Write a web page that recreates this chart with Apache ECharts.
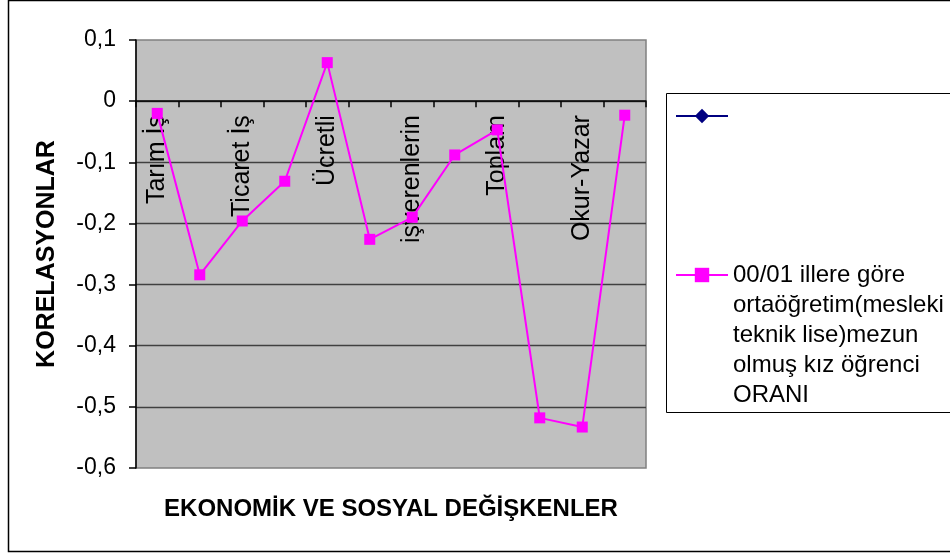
<!DOCTYPE html>
<html>
<head>
<meta charset="utf-8">
<script src="https://cdn.jsdelivr.net/npm/echarts@6/dist/echarts.min.js"></script>
<style>
  html, body { margin: 0; padding: 0; background: #ffffff; }
  #chart { width: 950px; height: 555px; }
</style>
</head>
<body>
<div id="chart"></div>
<script>
// Economic and social variables (only every other one is labelled on the axis)
const categories = ['Tarım İş', '', 'Ticaret İş', '', 'Ücretli', '', 'işverenlerin', '', 'Toplam', '', 'Okur-Yazar', ''];

// Correlation values of the vocational high-school graduate girl ratio
const seriesName = '00/01 illere göre\nortaöğretim(mesleki\nteknik lise)mezun\nolmuş kız öğrenci\nORANI';
const correlations = [-0.020, -0.284, -0.196, -0.131, 0.063, -0.226, -0.190, -0.088, -0.047, -0.518, -0.533, -0.023];

// Empty companion series shown only in the legend
const blankSeriesName = ' ';
const blankSeries = [];

// Value axis range and step
const yMin = -0.6;
const yMax = 0.1;
const yStep = 0.1;

const xTitle = 'EKONOMİK VE SOSYAL DEĞİŞKENLER';
const yTitle = 'KORELASYONLAR';

const FONT = '"Liberation Sans", Arial, sans-serif';
const LABEL_GAP = 14; // gap between the zero line and the category labels

const chart = echarts.init(document.getElementById('chart'), null, { renderer: 'canvas' });

function fmtComma(v) {
  const r = Math.round(v * 10) / 10;
  if (r === 0) return '0';
  return r.toFixed(1).replace('.', ',');
}

chart.setOption({
  backgroundColor: '#ffffff',
  animation: false,
  title: {
    text: xTitle,
    left: 391,
    textAlign: 'center',
    top: 497,
    padding: 0,
    textStyle: { fontFamily: FONT, fontSize: 24, fontWeight: 'bold', color: '#000000' }
  },
  graphic: [
    {
      type: 'rect',
      shape: { x: 8.5, y: 0.5, width: 1000, height: 551 },
      style: { fill: 'none', stroke: '#000000', lineWidth: 1.5 },
      silent: true,
      z: 0
    },
    {
      type: 'rect',
      shape: { x: 666.5, y: 93.5, width: 400, height: 319 },
      style: { fill: '#ffffff', stroke: '#000000', lineWidth: 1 },
      silent: true,
      z: 0
    }
  ],
  grid: {
    left: 136,
    top: 40,
    right: 304,
    bottom: 87,
    show: true,
    backgroundColor: '#c0c0c0',
    borderColor: '#808080',
    borderWidth: 1.5,
    containLabel: false,
    outerBoundsMode: 'none'
  },
  legend: [
    {
      data: [blankSeriesName],
      orient: 'vertical',
      left: 675,
      top: 101,
      padding: 0,
      itemWidth: 52,
      itemHeight: 18,
      selectedMode: false,
      textStyle: { fontFamily: FONT, fontSize: 24, lineHeight: 30, color: '#000' }
    },
    {
      data: [seriesName],
      orient: 'vertical',
      left: 675,
      top: 140,
      padding: 0,
      itemWidth: 52,
      itemHeight: 18,
      selectedMode: false,
      // leading blank lines keep the symbol level with the first text line
      formatter: function (name) { return '\n\n\n\n' + name; },
      textStyle: { fontFamily: FONT, fontSize: 24, lineHeight: 30, color: '#000' }
    }
  ],
  xAxis: {
    type: 'category',
    data: categories,
    boundaryGap: true,
    axisLine: { onZero: true, lineStyle: { color: '#000000', width: 1.5 } },
    axisTick: { show: true, interval: 0, length: 6, lineStyle: { color: '#000000', width: 1.5 } },
    axisLabel: {
      interval: 0,
      rotate: 90,
      margin: LABEL_GAP,
      fontFamily: FONT,
      fontSize: 25,
      color: '#000000'
    },
    splitLine: { show: false }
  },
  yAxis: {
    type: 'value',
    min: yMin,
    max: yMax,
    interval: yStep,
    name: yTitle,
    nameLocation: 'middle',
    nameRotate: 90,
    nameGap: 76,
    nameTextStyle: { fontFamily: FONT, fontSize: 25, fontWeight: 'bold', color: '#000000' },
    axisLine: { show: true, lineStyle: { color: '#000000', width: 1.5 } },
    axisTick: { show: true, length: 7, lineStyle: { color: '#000000', width: 1.5 } },
    axisLabel: {
      margin: 20,
      fontFamily: FONT,
      fontSize: 23,
      color: '#000000',
      formatter: fmtComma
    },
    splitLine: {
      show: true,
      showMinLine: false,
      showMaxLine: false,
      lineStyle: { color: '#404040', width: 1.3 }
    }
  },
  series: [
    {
      name: blankSeriesName,
      type: 'line',
      data: blankSeries,
      symbol: 'diamond',
      symbolSize: 12,
      itemStyle: { color: '#000080' },
      lineStyle: { color: '#000080', width: 2 }
    },
    {
      name: seriesName,
      type: 'line',
      data: correlations,
      symbol: 'rect',
      symbolSize: 11,
      itemStyle: { color: '#ff00ff' },
      lineStyle: { color: '#ff00ff', width: 2 },
      z: 5
    }
  ]
});

// Category labels hang just below the zero line: measure how far the
// zero line sits above the bottom of the plot and pull the labels up.
const zeroY = chart.convertToPixel({ yAxisIndex: 0 }, 0);
const bottomY = chart.convertToPixel({ yAxisIndex: 0 }, yMin);
chart.setOption({
  xAxis: { axisLabel: { margin: LABEL_GAP - (bottomY - zeroY) } }
});
</script>
</body>
</html>
